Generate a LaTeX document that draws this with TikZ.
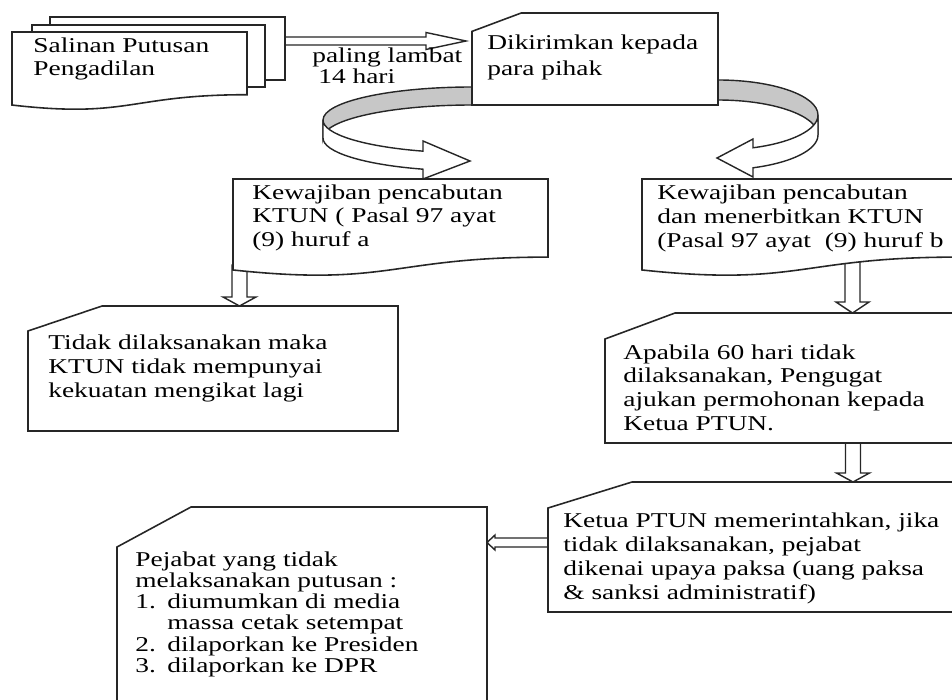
\documentclass[tikz,border=0pt]{standalone}
\usepackage{fontspec}
\setmainfont{Liberation Serif}[FakeStretch=1.3]
\usetikzlibrary{calc}

\tikzset{
  kotak/.style={draw=black!85, line width=0.9pt, fill=white},
  panah/.style={draw=black!85, line width=0.8pt, fill=white},
  pita/.style={draw=black!85, line width=0.8pt, fill=black!22},
  teks/.style={anchor=base west, align=left, inner sep=0pt}
}
\newcommand{\huruf}[1]{\fontsize{12pt}{#1}\selectfont}
\newcommand{\nomor}[1]{\makebox[0.64cm][l]{#1}}
% kartu: x, y, lebar, tinggi
\newcommand{\kartu}[4]{%
  \draw[kotak] ({#1},{#2+0.2*#4}) -- ({#1+0.2*#3},{#2}) -- ({#1+#3},{#2})
    -- ({#1+#3},{#2+#4}) -- ({#1},{#2+#4}) -- cycle;}
% dokumen: x, y, lebar, tinggi
\newcommand{\dokumen}[4]{%
  \draw[kotak] ({#1},{#2}) -- ({#1+#3},{#2}) -- ({#1+#3},{#2+0.802*#4})
    .. controls ({#1+0.5*#3},{#2+0.802*#4}) and ({#1+0.5*#3},{#2+1.107*#4}) .. ({#1},{#2+0.934*#4}) -- cycle;}
% panah blok: awal, ujung, batang, kepala, panjang kepala
\newcommand{\panahbawah}[5]{%
  \draw[panah] ($(#1)+(-#3,0)$) -- ($(#2)+(-#3,-#5)$) -- ($(#2)+(-#4,-#5)$) -- (#2)
    -- ($(#2)+(#4,-#5)$) -- ($(#2)+(#3,-#5)$) -- ($(#1)+(#3,0)$) -- cycle;}
\newcommand{\panahdatar}[5]{%
  \draw[panah] ($(#1)+(0,-#3)$) -- ($(#2)+({-(#5)},-#3)$) -- ($(#2)+({-(#5)},-#4)$) -- (#2)
    -- ($(#2)+({-(#5)},#4)$) -- ($(#2)+({-(#5)},#3)$) -- ($(#1)+(0,#3)$) -- cycle;}

\begin{document}
\begin{tikzpicture}[x=0.02cm, y=-0.02cm]
  \useasboundingbox (0,0) rectangle (952,699);
  \clip (0,0) rectangle (952,699);

  % titik sambung
  \coordinate (salin-e) at (280,41);
  \coordinate (kirim-w) at (466,41);
  \coordinate (kwa-s) at (239.5,265);
  \coordinate (tidak-n) at (239.5,306);
  \coordinate (kwb-s) at (852.5,255);
  \coordinate (apabila-n) at (852.5,313);
  \coordinate (apabila-s) at (853,438);
  \coordinate (ketua-n) at (853,482);
  \coordinate (ketua-w) at (552,542.5);
  \coordinate (pejabat-e) at (487,542.5);

  % pita melengkung kiri
  \draw[pita] (472,87) arc[start angle=90, end angle=180, x radius=2.98cm, y radius=0.66cm]
    -- (323,138) arc[start angle=180, end angle=90, x radius=2.98cm, y radius=0.66cm] -- cycle;
  \draw[panah] (323,120) arc[start angle=180, end angle=250.8, x radius=2.98cm, y radius=0.66cm]
    -- (423,141) -- (470,161) -- (423,179) -- (423,169.2)
    arc[start angle=250.8, end angle=180, x radius=2.98cm, y radius=0.66cm] -- cycle;

  % pita melengkung kanan
  \draw[pita] (718,80) arc[start angle=90, end angle=0, x radius=2cm, y radius=0.7cm]
    -- (818,135) arc[start angle=0, end angle=90, x radius=2cm, y radius=0.7cm] -- cycle;
  \draw[panah] (818,115) arc[start angle=0, end angle=-69.5, x radius=2cm, y radius=0.7cm]
    -- (753,139) -- (717,158) -- (753,177) -- (753,167.8)
    arc[start angle=-69.5, end angle=0, x radius=2cm, y radius=0.7cm] -- cycle;

  % panah blok
  \panahdatar{salin-e}{kirim-w}{4}{8.5}{40}
  \panahbawah{kwa-s}{tidak-n}{7.5}{16.5}{9}
  \panahbawah{kwb-s}{apabila-n}{7.5}{16.5}{11}
  \panahbawah{apabila-s}{ketua-n}{7.5}{16.5}{9}
  \panahdatar{ketua-w}{pejabat-e}{4.5}{7.5}{-8}

  % salinan putusan
  \draw[kotak] (50,17) rectangle (285,80);
  \draw[kotak] (32,25) rectangle (265,87);
  \dokumen{12}{32}{235}{78.2}

  % kotak lain
  \kartu{472}{13}{246}{92}
  \dokumen{233}{179}{315}{97.4}
  \dokumen{642}{179}{315}{97.4}
  \kartu{28}{306}{370}{125}
  \kartu{605}{313}{350}{130}
  \kartu{548}{482}{420}{130}
  \kartu{117}{507}{370}{200}

  % teks (base = baris terakhir)
  \node[teks, font=\huruf{13.1pt}] (salinan) at (33,75.5) {Salinan Putusan\\Pengadilan};
  \node[teks, font=\huruf{12pt}] (paling) at (312,83.5) {paling lambat\\\hspace{0.12cm}14 hari};
  \node[teks, font=\huruf{14.8pt}] (kirim) at (487,76) {Dikirimkan kepada\\para pihak};
  \node[teks, font=\huruf{13.4pt}] (kwa) at (252,246.5) {Kewajiban pencabutan\\KTUN ( Pasal 97 ayat\\(9) huruf a};
  \node[teks, font=\huruf{13.6pt}] (kwb) at (657,247.5) {Kewajiban pencabutan\\dan menerbitkan KTUN\\(Pasal 97 ayat~ (9) huruf b};
  \node[teks, font=\huruf{13.6pt}] (tidak) at (48,397.5) {Tidak dilaksanakan maka\\KTUN tidak mempunyai\\kekuatan mengikat lagi};
  \node[teks, font=\huruf{13.4pt}] (apabila) at (623,430) {Apabila 60 hari tidak\\dilaksanakan, Pengugat\\ajukan permohonan kepada\\Ketua PTUN.};
  \node[teks, font=\huruf{13.6pt}] (ketua) at (563,599.5) {Ketua PTUN memerintahkan, jika\\tidak dilaksanakan, pejabat\\dikenai upaya paksa (uang paksa\\\& sanksi administratif)};
  \node[teks, font=\huruf{12.1pt}] (pejabat) at (135,672.5) {Pejabat yang tidak\\melaksanakan putusan :\\\nomor{1.}diumumkan di media\\\nomor{}massa cetak setempat\\\nomor{2.}dilaporkan ke Presiden\\\nomor{3.}dilaporkan ke DPR};
\end{tikzpicture}
\end{document}
